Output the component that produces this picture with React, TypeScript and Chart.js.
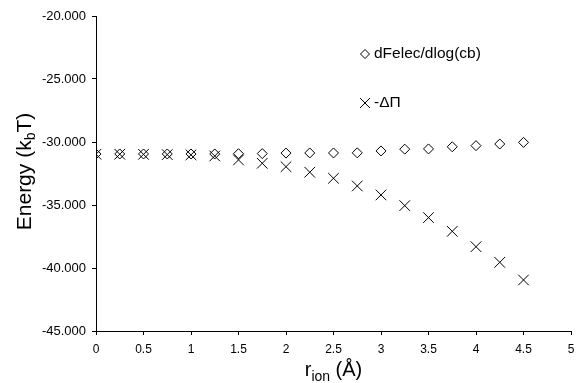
import React, { useEffect, useRef } from "react";
import { Chart, registerables } from "chart.js";

Chart.register(...registerables);

const radii = [0, 0.25, 0.5, 0.75, 1, 1.25, 1.5, 1.75, 2, 2.25, 2.5, 2.75, 3, 3.25, 3.5, 3.75, 4, 4.25, 4.5];
const dFelecValues = [-30.95, -30.95, -30.95, -30.95, -30.95, -30.95, -30.93, -30.92, -30.88, -30.87, -30.87, -30.86, -30.71, -30.57, -30.55, -30.38, -30.29, -30.16, -30.03];
const minusDeltaPiValues = [-30.97, -30.97, -30.98, -31.0, -31.02, -31.11, -31.42, -31.69, -31.96, -32.4, -32.88, -33.49, -34.2, -35.05, -36.0, -37.09, -38.31, -39.55, -40.95];
const xTickValues = [0, 0.5, 1, 1.5, 2, 2.5, 3, 3.5, 4, 4.5, 5];
const yTickValues = [-45, -40, -35, -30, -25, -20];
const legendLabels = ["dFelec/dlog(cb)", "-ΔΠ"];

const FONT = "Arial, 'Liberation Sans', sans-serif";

const decorPlugin = {
  id: "decor",
  afterDraw(chart: any) {
    const ctx = chart.ctx as CanvasRenderingContext2D;
    const ca = chart.chartArea;
    ctx.save();
    ctx.fillStyle = "#000";
    ctx.strokeStyle = "#000";
    ctx.lineWidth = 1;

    // legend
    const lx = 365;
    const ly1 = 54;
    const ly2 = 103;
    ctx.beginPath();
    ctx.moveTo(lx - 4.5, ly1);
    ctx.lineTo(lx, ly1 - 4.5);
    ctx.lineTo(lx + 4.5, ly1);
    ctx.lineTo(lx, ly1 + 4.5);
    ctx.closePath();
    ctx.stroke();
    ctx.beginPath();
    ctx.moveTo(lx - 5, ly2 - 5);
    ctx.lineTo(lx + 5, ly2 + 5);
    ctx.moveTo(lx + 5, ly2 - 5);
    ctx.lineTo(lx - 5, ly2 + 5);
    ctx.stroke();
    ctx.font = `15.5px ${FONT}`;
    ctx.textAlign = "left";
    ctx.textBaseline = "middle";
    ctx.fillText(legendLabels[0], 374, ly1);
    ctx.fillText(legendLabels[1], 374, ly2);

    // x axis title: r_ion (Å)
    const big = `20px ${FONT}`;
    const small = `14px ${FONT}`;
    ctx.textBaseline = "alphabetic";
    ctx.font = big;
    const wR = ctx.measureText("r").width;
    const wRest = ctx.measureText(" (Å)").width;
    ctx.font = small;
    const wSub = ctx.measureText("ion").width;
    const total = wR + wSub + wRest;
    let x0 = (ca.left + ca.right) / 2 - total / 2;
    const by = 376;
    ctx.font = big;
    ctx.fillText("r", x0, by);
    x0 += wR;
    ctx.font = small;
    ctx.fillText("ion", x0, by + 5);
    x0 += wSub;
    ctx.font = big;
    ctx.fillText(" (Å)", x0, by);

    // y axis title: Energy (k_bT)
    ctx.save();
    ctx.translate(31, (ca.top + ca.bottom) / 2 - 2);
    ctx.rotate(-Math.PI / 2);
    const ybig = `21px ${FONT}`;
    const ysmall = `14px ${FONT}`;
    ctx.font = ybig;
    const w1 = ctx.measureText("Energy (k").width;
    const w3 = ctx.measureText("T)").width;
    ctx.font = ysmall;
    const w2 = ctx.measureText("b").width;
    let t = -(w1 + w2 + w3) / 2;
    ctx.font = ybig;
    ctx.fillText("Energy (k", t, 0);
    t += w1;
    ctx.font = ysmall;
    ctx.fillText("b", t, 4);
    t += w2;
    ctx.font = ybig;
    ctx.fillText("T)", t, 0);
    ctx.restore();

    ctx.restore();
  },
};

export default function App() {
  const ref = useRef<HTMLCanvasElement>(null);

  useEffect(() => {
    const canvas = ref.current;
    if (!canvas) return;
    const chart = new Chart(canvas, {
      type: "scatter",
      data: {
        datasets: [
          {
            label: legendLabels[0],
            data: radii.map((r, i) => ({ x: r, y: dFelecValues[i] })),
            pointStyle: "rectRot",
            pointRadius: 5,
            pointBorderWidth: 1,
            borderColor: "#000",
            backgroundColor: "rgba(0,0,0,0)",
            showLine: false,
          },
          {
            label: legendLabels[1],
            data: radii.map((r, i) => ({ x: r, y: minusDeltaPiValues[i] })),
            pointStyle: "crossRot",
            pointRadius: 7.5,
            pointBorderWidth: 1,
            borderColor: "#000",
            backgroundColor: "rgba(0,0,0,0)",
            showLine: false,
          },
        ],
      },
      options: {
        responsive: false,
        animation: false,
        layout: { autoPadding: false, padding: { top: 16, right: 5, left: 0, bottom: 0 } },
        plugins: {
          legend: { display: false },
          tooltip: { enabled: false },
          title: { display: false },
        },
        scales: {
          x: {
            type: "linear",
            min: 0,
            max: 5,
            afterBuildTicks: (s: any) => {
              s.ticks = xTickValues.map((v) => ({ value: v }));
            },
            afterFit: (s: any) => {
              s.height = 52;
              s.paddingLeft = 0;
              s.paddingRight = 0;
            },
            grid: { drawOnChartArea: false, drawTicks: true, tickLength: 4, color: "#000" },
            border: { color: "#000", width: 1 },
            ticks: {
              color: "#000",
              font: { family: FONT, size: 12 },
              padding: 7,
              maxRotation: 0,
              autoSkip: false,
              callback: (v: any) => String(v),
            },
          },
          y: {
            type: "linear",
            min: -45,
            max: -20,
            afterBuildTicks: (s: any) => {
              s.ticks = yTickValues.map((v) => ({ value: v }));
            },
            afterFit: (s: any) => {
              s.width = 96;
              s.paddingTop = 0;
              s.paddingBottom = 0;
            },
            grid: { drawOnChartArea: false, drawTicks: true, tickLength: 4, color: "#000" },
            border: { color: "#000", width: 1 },
            ticks: {
              color: "#000",
              font: { family: FONT, size: 13 },
              padding: 6,
              autoSkip: false,
              callback: (v: any) => Number(v).toFixed(3),
            },
          },
        },
      },
      plugins: [decorPlugin],
    });
    return () => chart.destroy();
  }, []);

  return (
    <div style={{ position: "fixed", left: 0, top: 0, width: 576, height: 383, background: "#fff" }}>
      <canvas ref={ref} width={576} height={383} style={{ display: "block" }} />
    </div>
  );
}
